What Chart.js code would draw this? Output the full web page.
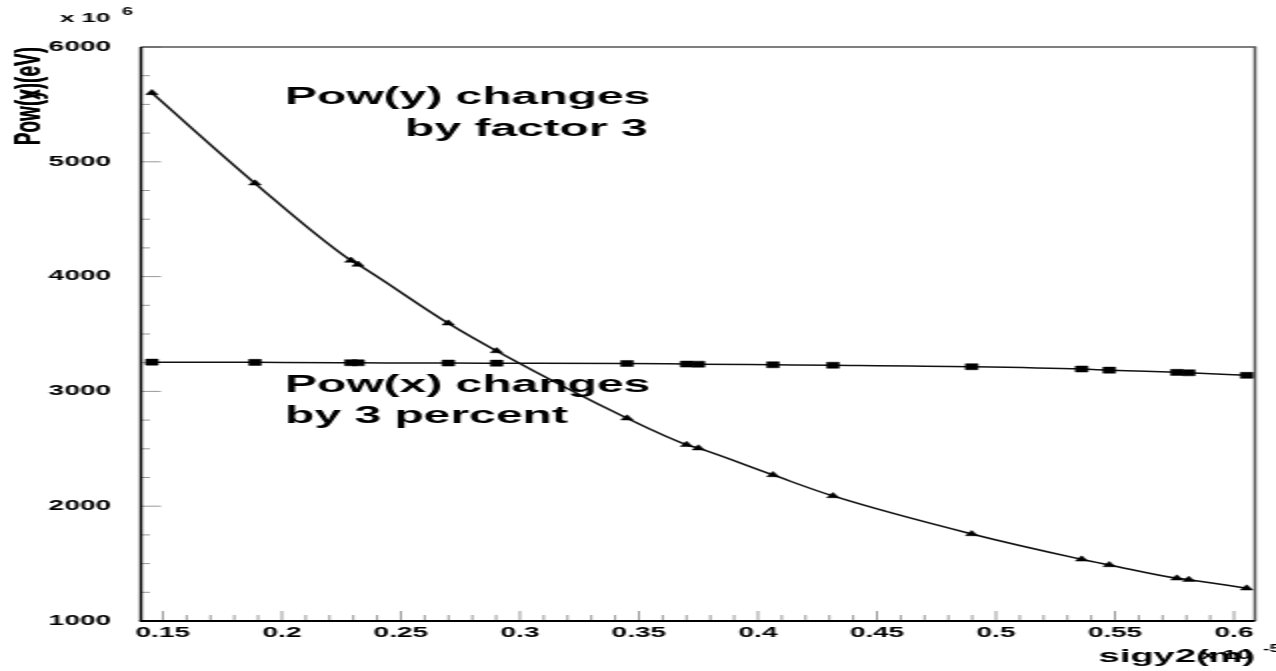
<!DOCTYPE html>
<html>
<head>
<meta charset="utf-8">
<script src="https://cdn.jsdelivr.net/npm/chart.js"></script>
<style>
html, body { margin: 0; padding: 0; background: #fff; overflow: hidden; }
/* the original picture is stretched sideways, so draw at half width and widen it */
#wrap { width: 638px; height: 671px; transform: scaleX(2); transform-origin: 0 0; }
</style>
</head>
<body>
<div id="wrap"><canvas id="chart" width="638" height="671"></canvas></div>
<script>
// sigy2 (x 10^-5 m) and power (x 10^6 eV)
var sigy2 = [0.1454, 0.1887, 0.229, 0.232, 0.2699, 0.2902, 0.345, 0.370, 0.375, 0.4063, 0.4315, 0.4898, 0.536, 0.5476, 0.576, 0.581, 0.6053];
var powY  = [5600, 4813, 4140, 4105, 3593, 3352, 2766, 2535, 2505, 2272, 2089, 1758, 1537, 1488, 1372, 1360, 1285];
var powX  = [3255, 3253, 3250, 3249, 3247, 3246, 3243, 3238, 3237, 3232, 3228, 3215, 3195, 3185, 3166, 3162, 3140];

var xTicks = [0.15, 0.2, 0.25, 0.3, 0.35, 0.4, 0.45, 0.5, 0.55, 0.6];
var xTickLabels = ['0.15', '0.2', '0.25', '0.3', '0.35', '0.4', '0.45', '0.5', '0.55', '0.6'];
var yTicks = [1000, 2000, 3000, 4000, 5000, 6000];
var yTickLabels = ['1000', '2000', '3000', '4000', '5000', '6000'];

// text notes, anchored in data coordinates
var notes = [
    { text: 'Pow(y) changes', x: 0.2013, y: 5503 },
    { text: 'by factor 3', x: 0.2517, y: 5225 },
    { text: 'Pow(x) changes', x: 0.2013, y: 2995 },
    { text: 'by 3 percent', x: 0.2013, y: 2725 }
];

var FONT = "'Liberation Sans', Arial, Helvetica, sans-serif";
Chart.defaults.font.family = FONT;
Chart.defaults.color = '#000';

function toPoints(xs, ys) {
    var out = [];
    for (var i = 0; i < xs.length; i++) {
        out.push({ x: xs[i], y: ys[i] });
    }
    return out;
}

var framePlugin = {
    id: 'frame',
    beforeDatasetsDraw: function(chart) {
        var ctx = chart.ctx;
        var a = chart.chartArea;
        var xs = chart.scales.x;
        var ys = chart.scales.y;
        ctx.save();
        // tick marks, drawn inside the frame
        ctx.strokeStyle = '#999';
        ctx.lineWidth = 1;
        ctx.beginPath();
        for (var v = 1000; v <= 6000; v += 250) {
            var py = ys.getPixelForValue(v);
            var len = (v % 1000 === 0) ? 10 : 4.5;
            ctx.moveTo(a.left, py);
            ctx.lineTo(a.left + len, py);
        }
        for (var i = 14; i <= 60; i++) {
            var vx = i / 100;
            if (vx < xs.min || vx > xs.max) continue;
            var px = xs.getPixelForValue(vx);
            var l = (i % 5 === 0) ? 10 : 6;
            ctx.moveTo(px, a.bottom);
            ctx.lineTo(px, a.bottom - l);
        }
        ctx.stroke();

        // top and right of the frame
        ctx.strokeStyle = '#555';
        ctx.lineWidth = 1.5;
        ctx.beginPath();
        ctx.moveTo(a.left, a.top);
        ctx.lineTo(a.right, a.top);
        ctx.lineTo(a.right, a.bottom);
        ctx.stroke();

        // axis lines
        ctx.strokeStyle = '#000';
        ctx.lineWidth = 1.5;
        ctx.beginPath();
        ctx.moveTo(a.left, a.top);
        ctx.lineTo(a.left, a.bottom);
        ctx.stroke();
        ctx.lineWidth = 2;
        ctx.beginPath();
        ctx.moveTo(a.left - 0.75, a.bottom);
        ctx.lineTo(a.right, a.bottom);
        ctx.stroke();
        ctx.restore();
    },
    afterDraw: function(chart) {
        var ctx = chart.ctx;
        var xs = chart.scales.x;
        var ys = chart.scales.y;
        var a = chart.chartArea;
        ctx.save();
        ctx.fillStyle = '#000';
        ctx.textAlign = 'left';
        ctx.textBaseline = 'alphabetic';

        ctx.font = 'bold 24px ' + FONT;
        notes.forEach(function(n) {
            ctx.fillText(n.text, xs.getPixelForValue(n.x), ys.getPixelForValue(n.y));
        });

        // exponent of the y axis
        ctx.font = 'bold 13px ' + FONT;
        ctx.fillText('x 10', 30, 22);
        ctx.font = 'bold 10px ' + FONT;
        ctx.fillText('6', 61, 15);

        // x axis title with its exponent drawn over it
        ctx.textAlign = 'right';
        ctx.font = 'bold 19px ' + FONT;
        ctx.fillText('sigy2(m)', a.right, 662);
        ctx.textAlign = 'left';
        ctx.font = 'bold 13px ' + FONT;
        ctx.fillText('x 10', 600.5, 659);
        ctx.font = 'bold 10px ' + FONT;
        ctx.fillText('-5', 631.5, 652);

        // y axis title, both labels on top of each other
        ctx.translate(15, a.top);
        ctx.rotate(-Math.PI / 2);
        ctx.textAlign = 'right';
        ctx.textBaseline = 'middle';
        ctx.font = 'bold 19px ' + FONT;
        ctx.fillText('Pow(y)(eV)', 0, 0);
        ctx.fillText('Pow(x)(eV)', 0, 0);
        ctx.restore();
    }
};

var ctx = document.getElementById('chart');

var chart = new Chart(ctx, {
    type: 'scatter',
    data: {
        datasets: [{
            label: 'Pow(y)',
            data: toPoints(sigy2, powY),
            showLine: true,
            borderColor: '#111',
            borderWidth: 1.5,
            cubicInterpolationMode: 'monotone',
            pointStyle: 'triangle',
            pointRadius: 3.5,
            pointBackgroundColor: '#000',
            pointBorderColor: '#000',
            pointBorderWidth: 0.5
        }, {
            label: 'Pow(x)',
            data: toPoints(sigy2, powX),
            showLine: true,
            borderColor: '#111',
            borderWidth: 1.5,
            cubicInterpolationMode: 'monotone',
            pointStyle: 'rect',
            pointRadius: 4.3,
            pointBackgroundColor: '#000',
            pointBorderColor: '#000',
            pointBorderWidth: 0.5
        }]
    },
    options: {
        responsive: false,
        animation: false,
        devicePixelRatio: 1,
        layout: { padding: { top: 47, right: 10.5, left: 0, bottom: 0 } },
        plugins: {
            legend: { display: false },
            tooltip: { enabled: false }
        },
        scales: {
            x: {
                type: 'linear',
                min: 0.1408,
                max: 0.6088,
                afterBuildTicks: function(s) {
                    s.ticks = xTicks.map(function(v) { return { value: v }; });
                },
                afterFit: function(s) { s.height = 50; },
                grid: { display: false, drawTicks: false },
                border: { display: false },
                ticks: {
                    padding: 4,
                    autoSkip: false,
                    maxRotation: 0,
                    font: { size: 14, weight: 'bold' },
                    callback: function(v, i) { return xTickLabels[i]; }
                }
            },
            y: {
                type: 'linear',
                min: 1000,
                max: 6000,
                afterBuildTicks: function(s) {
                    s.ticks = yTicks.map(function(v) { return { value: v }; });
                },
                afterFit: function(s) { s.width = 70.5; },
                grid: { display: false, drawTicks: false },
                border: { display: false },
                ticks: {
                    padding: 15,
                    font: { size: 14, weight: 'bold' },
                    callback: function(v, i) { return yTickLabels[i]; }
                }
            }
        }
    },
    plugins: [framePlugin]
});
</script>
</body>
</html>
